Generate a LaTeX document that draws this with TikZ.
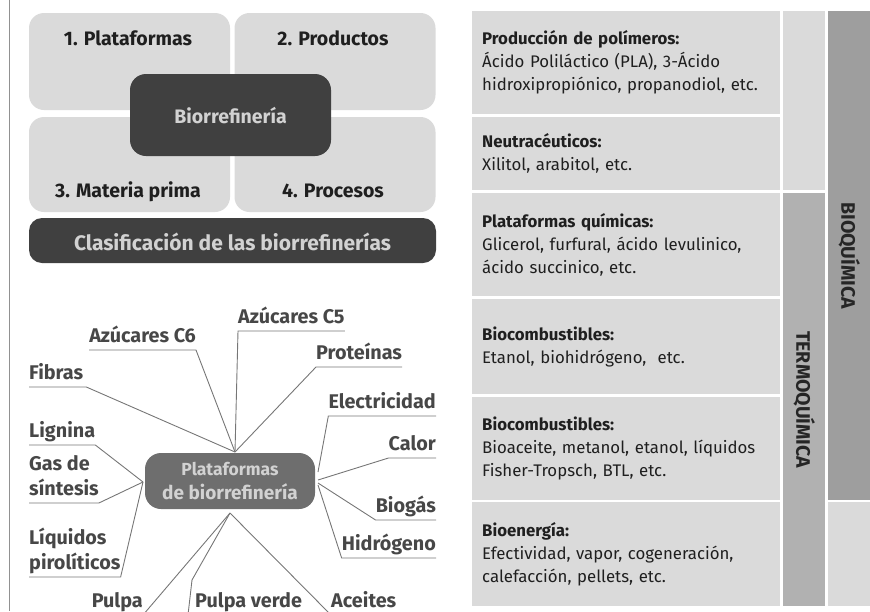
\documentclass[tikz,border=0pt]{standalone}
\usepackage{fontspec}
\setmainfont{Fira Sans}
\definecolor{grisclaro}{HTML}{DADADA}
\definecolor{grisoscuro}{HTML}{404040}
\definecolor{grisnodo}{HTML}{6E6E6E}
\definecolor{gristermo}{HTML}{B1B1B1}
\definecolor{grisbio}{HTML}{9E9E9E}
\definecolor{grislinea}{HTML}{767676}
\definecolor{gristexto}{HTML}{474747}
\definecolor{grisletra}{HTML}{D2D2D2}

\begin{document}
\begin{tikzpicture}[x=1pt,y=-1pt,
  cuadro/.style={fill=grisclaro,rounded corners=15pt,inner sep=0pt,minimum width=201pt},
  oscuro/.style={fill=grisoscuro,rounded corners=16pt,inner sep=0pt},
  titulo/.style={font=\fontsize{19.5}{22}\selectfont\bfseries,text=black!88,inner sep=0pt,anchor=base},
  fila/.style={fill=grisclaro,anchor=north west,minimum width=308pt,text width=288pt,inner xsep=10pt,inner ysep=0pt,align=left,font=\fontsize{16.8}{23}\selectfont,text=black!88},
  columna/.style={anchor=north west,minimum width=42pt,inner sep=0pt},
  vertical/.style={rotate=-90,font=\fontsize{19.5}{20}\selectfont\bfseries,text=black!85,inner sep=0pt},
  etiq/.style={font=\fontsize{19.8}{25}\selectfont\bfseries,text=gristexto,inner sep=0pt,text depth=7.5pt,align=left},
  linea/.style={draw=grislinea,line width=0.9pt}]
\useasboundingbox (0,0) rectangle (870,611);
\clip (0,0) rectangle (870,611);
\draw[grislinea!80,line width=0.8pt] (9,0) -- (9,611);

\node[cuadro,minimum height=97pt] (b1) at (129.5,61.5) {};
\node[cuadro,minimum height=97pt] (b2) at (335,61.5) {};
\node[cuadro,minimum height=95pt] (b3) at (129.5,164.5) {};
\node[cuadro,minimum height=95pt] (b4) at (335,164.5) {};
\node[oscuro,minimum width=201pt,minimum height=82pt] (bio) at (230.5,115) {};
\node[oscuro,rounded corners=13pt,minimum width=407pt,minimum height=45pt] (clas) at (232.5,240.5) {};
\node[titulo] (t1) at (128,45) {1. Plataformas};
\node[titulo] (t2) at (333,45) {2. Productos};
\node[titulo] (t3) at (128,197) {3. Materia prima};
\node[titulo] (t4) at (333,197) {4. Procesos};
\node[titulo,text=grisletra,font=\fontsize{19.5}{22}\selectfont\bfseries] (tbio) at (230.5,123) {Biorrefinería};
\node[titulo,text=grisletra,font=\fontsize{21}{22}\selectfont\bfseries] (tclas) at (232.5,250) {Clasificación de las biorrefinerías};

\node[oscuro,fill=grisnodo,minimum width=170pt,minimum height=56pt,align=center,text=grisletra,font=\fontsize{19}{24}\selectfont\bfseries] (hub) at (230,481)
  {{\fontsize{17.5}{24}\selectfont Plataformas}\\{\fontsize{19}{24}\selectfont de biorrefinería}};
\coordinate (hsup) at (235,452);
\coordinate (hinf) at (230,513);
\coordinate (hizq) at (143,482);

\node[etiq,anchor=south west] (c5) at (238,331) {Azúcares C5};
\node[etiq,anchor=south east] (c6) at (196,350) {Azúcares C6};
\node[etiq,anchor=south west] (prot) at (316,367) {Proteínas};
\node[etiq,anchor=south west] (fib) at (29,387) {Fibras};
\node[etiq,anchor=south east] (elec) at (436,416) {Electricidad};
\node[etiq,anchor=south east] (calor) at (436,458) {Calor};
\node[etiq,anchor=south east] (biog) at (436,520) {Biogás};
\node[etiq,anchor=south east] (hidr) at (436,558) {Hidrógeno};
\node[etiq,anchor=south west] (lig) at (29,445) {Lignina};
\node[etiq,anchor=south west] (gas) at (29,503) {Gas de\\síntesis};
\node[etiq,anchor=south west] (liq) at (29,577) {Líquidos\\pirolíticos};
\node[etiq,anchor=south east] (pulpa) at (143,615) {Pulpa};
\node[etiq,anchor=south west] (pverde) at (195,615) {Pulpa verde};
\node[etiq,anchor=south west] (aceit) at (331,615) {Aceites};

\draw[linea] (c5.south east) -- (c5.south west) -- (hsup);
\draw[linea] (c6.south west) -- (c6.south east) -- (hsup);
\draw[linea] (prot.south east) -- (prot.south west) -- (hsup);
\draw[linea] (fib.south west) -- ([xshift=3pt]fib.south east) -- (hsup);
\draw[linea] (elec.south east) -- (elec.south west) -- (318,472);
\draw[linea] (calor.south east) -- (calor.south west) -- (318,480);
\draw[linea] (biog.south east) -- (biog.south west) -- (318,483);
\draw[linea] (hidr.south east) -- (hidr.south west) -- (318,485);
\draw[linea] (lig.south west) -- (lig.south east) -- (hizq);
\draw[linea] (gas.south west) -- (gas.south east) -- (hizq);
\draw[linea] (liq.south west) -- (liq.south east) -- (hizq);
\draw[linea] (pulpa.south west) -- (pulpa.south east) -- (hinf);
\draw[linea] (pverde.south east) -- ([xshift=-7pt]pverde.south west) -- (192,580) -- (hinf);
\draw[linea] (aceit.south east) -- (aceit.south west) -- (hinf);

\node[fila,minimum height=103pt] (f1) at (472,11)
  {\textbf{Producción de polímeros:}\\Ácido Poliláctico (PLA), 3-Ácido\\hidroxipropiónico, propanodiol, etc.};
\node[fila,minimum height=73pt] (f2) at (472,117)
  {\textbf{Neutracéuticos:}\\Xilitol, arabitol, etc.};
\node[fila,minimum height=103pt] (f3) at (472,193)
  {\textbf{Plataformas químicas:}\\Glicerol, furfural, ácido levulinico,\\ácido succinico, etc.};
\node[fila,minimum height=95pt] (f4) at (472,299)
  {\textbf{Biocombustibles:}\\Etanol, biohidrógeno,\ \ etc.};
\node[fila,minimum height=103pt] (f5) at (472,397)
  {\textbf{Biocombustibles:}\\Bioaceite, metanol, etanol, líquidos\\Fisher-Tropsch, BTL, etc.};
\node[fila,minimum height=104pt] (f6) at (472,502)
  {\textbf{Bioenergía:}\\Efectividad, vapor, cogeneración,\\calefacción, pellets, etc.};

\node[columna,fill=grisclaro,minimum height=179pt] (c2sup) at (783,11) {};
\node[columna,fill=gristermo,minimum height=413pt] (termo) at (783,193) {};
\node[columna,fill=grisbio,minimum height=489pt] (bioq) at (828,11) {};
\node[columna,fill=grisclaro,minimum height=104pt] (c3inf) at (828,502) {};
\node[vertical] (ttermo) at (termo.center) {TERMOQUÍMICA};
\node[vertical] (tbioq) at (bioq.center) {BIOQUÍMICA};
\end{tikzpicture}
\end{document}
